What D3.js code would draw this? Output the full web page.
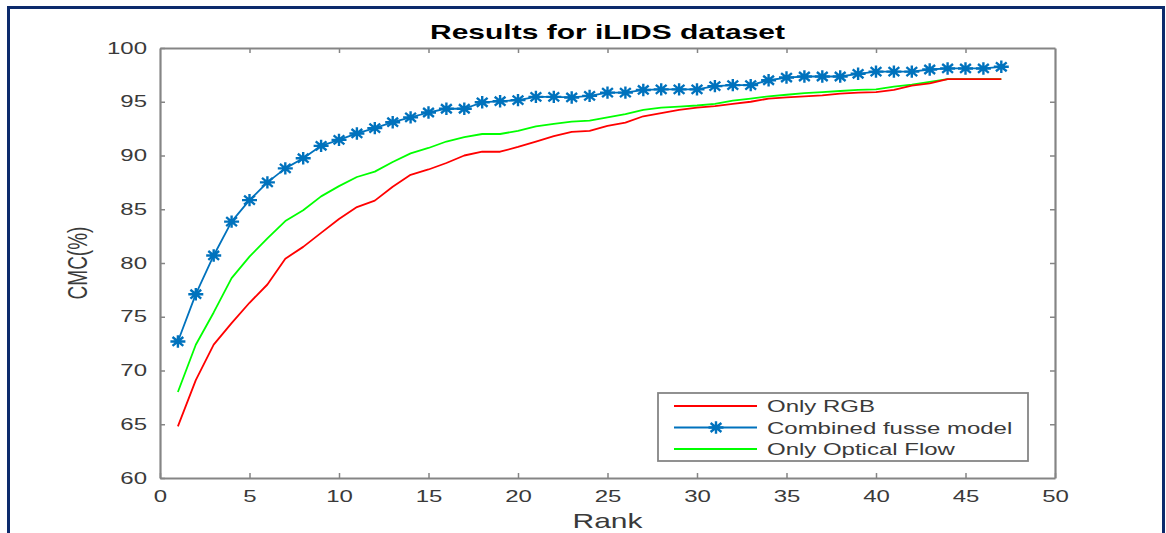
<!DOCTYPE html>
<html>
<head>
<meta charset="utf-8">
<script src="https://cdn.jsdelivr.net/npm/d3@7"></script>
<style>
  body { margin: 0; background: #fff; }
  svg { display: block; font-family: "Liberation Sans", Arial, sans-serif; }
</style>
</head>
<body>
<svg id="chart" width="1166" height="533"></svg>
<script>
// data
var ranks = [1, 2, 3, 4, 5, 6, 7, 8, 9, 10, 11, 12, 13, 14, 15, 16, 17, 18, 19, 20, 21, 22, 23, 24,
             25, 26, 27, 28, 29, 30, 31, 32, 33, 34, 35, 36, 37, 38, 39, 40, 41, 42, 43, 44, 45, 46, 47];
var onlyRGB = [64.8, 69.1, 72.4, 74.4, 76.3, 78.0, 80.4, 81.5, 82.8, 84.1, 85.2, 85.8, 87.1, 88.2, 88.7,
               89.3, 90.0, 90.35, 90.35, 90.8, 91.3, 91.8, 92.2, 92.3, 92.75, 93.05, 93.65, 93.95, 94.25,
               94.45, 94.6, 94.8, 95.0, 95.3, 95.4, 95.5, 95.6, 95.75, 95.85, 95.9, 96.1, 96.5, 96.7,
               97.1, 97.1, 97.1, 97.1];
var combined = [72.7, 77.1, 80.7, 83.85, 85.85, 87.5, 88.8, 89.75, 90.9, 91.45, 92.05, 92.55, 93.1, 93.55,
                94.0, 94.35, 94.35, 94.95, 95.05, 95.15, 95.45, 95.45, 95.4, 95.55, 95.85, 95.85, 96.1,
                96.15, 96.15, 96.15, 96.45, 96.55, 96.55, 97.0, 97.25, 97.35, 97.35, 97.35, 97.6, 97.8,
                97.8, 97.8, 98.0, 98.1, 98.1, 98.1, 98.25];
var opticalFlow = [68.0, 72.4, 75.4, 78.6, 80.6, 82.3, 83.9, 84.9, 86.2, 87.15, 88.0, 88.5, 89.4, 90.2,
                   90.7, 91.3, 91.7, 92.0, 92.0, 92.3, 92.7, 92.95, 93.15, 93.25, 93.55, 93.85, 94.25,
                   94.45, 94.55, 94.65, 94.8, 95.1, 95.3, 95.5, 95.65, 95.8, 95.9, 96.0, 96.1, 96.15,
                   96.4, 96.6, 96.85, 97.1, 97.1, 97.1, 97.1];
var xTicks = [0, 5, 10, 15, 20, 25, 30, 35, 40, 45, 50];
var yTicks = [60, 65, 70, 75, 80, 85, 90, 95, 100];
var seriesNames = ["Only RGB", "Combined fusse model", "Only Optical Flow"];
var seriesColors = ["#ff0000", "#0072bd", "#00ff00"];

var svg = d3.select("#chart"),
    plotLeft = 160, plotRight = 1055, plotTop = 48, plotBottom = 478,
    sx = 1.5,   // the picture is stretched sideways
    axisGrey = "#858585",
    textGrey = "#3a3a3a";

var x = d3.scaleLinear().domain([0, 50]).range([plotLeft, plotRight]);
var y = d3.scaleLinear().domain([60, 100]).range([plotBottom, plotTop]);

// outer navy frame
svg.append("rect")
  .attr("x", 8.5).attr("y", 7.5)
  .attr("width", 1155).attr("height", 560)
  .attr("fill", "none")
  .attr("stroke", "#0c2a6c")
  .attr("stroke-width", 3);

function stretch(sel) {
  sel.each(function() {
    var t = d3.select(this);
    var tx = +t.attr("x") || 0, ty = +t.attr("y") || 0;
    t.attr("x", null).attr("y", null)
      .attr("transform", "translate(" + tx + "," + ty + ") scale(" + sx + ",1)");
  });
}

// axes (box with inward ticks)
var gx = svg.append("g").attr("transform", "translate(0," + plotBottom + ")")
  .call(d3.axisBottom(x).tickValues(xTicks).tickSizeInner(-5).tickSizeOuter(0).tickPadding(13));
var gy = svg.append("g").attr("transform", "translate(" + plotLeft + ",0)")
  .call(d3.axisLeft(y).tickValues(yTicks).tickSizeInner(-5).tickSizeOuter(0).tickPadding(13));
var gxt = svg.append("g").attr("transform", "translate(0," + plotTop + ")")
  .call(d3.axisTop(x).tickValues(xTicks).tickSizeInner(-5).tickSizeOuter(0).tickFormat(""));
var gyr = svg.append("g").attr("transform", "translate(" + plotRight + ",0)")
  .call(d3.axisRight(y).tickValues(yTicks).tickSizeInner(-5).tickSizeOuter(0).tickFormat(""));

[gx, gy, gxt, gyr].forEach(function(g) {
  g.select(".domain").attr("stroke", axisGrey).attr("stroke-width", 2.2);
  g.selectAll(".tick line").attr("stroke", axisGrey).attr("stroke-width", 1.5);
  g.selectAll(".tick text").attr("fill", textGrey).style("font-size", "16px")
    .style("font-family", "'Liberation Sans', Arial, sans-serif");
});
gx.selectAll(".tick text").call(stretch);
gy.selectAll(".tick text").call(stretch);
// hide tick marks that sit on the box corners
gxt.selectAll(".tick").filter(function(d) { return d === 0 || d === 50; }).remove();
gyr.selectAll(".tick").filter(function(d) { return d === 60 || d === 100; }).remove();

// series
var line = d3.line()
  .x(function(d) { return x(d[0]); })
  .y(function(d) { return y(d[1]); });

var allSeries = [onlyRGB, combined, opticalFlow];
var order = [2, 0, 1];   // draw green, red, then blue on top
order.forEach(function(i) {
  svg.append("path")
    .datum(ranks.map(function(r, j) { return [r, allSeries[i][j]]; }))
    .attr("d", line)
    .attr("fill", "none")
    .attr("stroke", seriesColors[i])
    .attr("stroke-width", 1.8)
    .attr("stroke-linejoin", "round");
});

// asterisk marker
function star(cx, cy) {
  var a = 7.5, b = 6.2, d = 0.72;
  return "M" + (cx - a) + "," + cy + "L" + (cx + a) + "," + cy +
         "M" + cx + "," + (cy - b) + "L" + cx + "," + (cy + b) +
         "M" + (cx - a * d) + "," + (cy - b * d) + "L" + (cx + a * d) + "," + (cy + b * d) +
         "M" + (cx - a * d) + "," + (cy + b * d) + "L" + (cx + a * d) + "," + (cy - b * d);
}

svg.append("g").selectAll("path")
  .data(ranks.map(function(r, j) { return [r, combined[j]]; }))
  .enter().append("path")
  .attr("d", function(d) { return star(x(d[0]), y(d[1])); })
  .attr("stroke", seriesColors[1])
  .attr("stroke-width", 2.4)
  .attr("fill", "none");

// title and axis labels
svg.append("text")
  .attr("x", (plotLeft + plotRight) / 2).attr("y", 39)
  .attr("text-anchor", "middle")
  .style("font-size", "20px").style("font-weight", "bold")
  .attr("fill", "#000")
  .text("Results for iLIDS dataset")
  .call(stretch);

svg.append("text")
  .attr("x", (plotLeft + plotRight) / 2).attr("y", 528)
  .attr("text-anchor", "middle")
  .style("font-size", "20px")
  .attr("fill", textGrey)
  .text("Rank")
  .call(stretch);

svg.append("text")
  .attr("text-anchor", "middle")
  .attr("transform", "translate(87," + ((plotTop + plotBottom) / 2) + ") scale(" + sx + ",1) rotate(-90)")
  .style("font-size", "19px")
  .attr("fill", textGrey)
  .text("CMC(%)");

// legend
var legend = svg.append("g");
legend.append("rect")
  .attr("x", 658).attr("y", 393)
  .attr("width", 370).attr("height", 68)
  .attr("fill", "#fff")
  .attr("stroke", axisGrey)
  .attr("stroke-width", 1.8);

var legendY = d3.scalePoint().domain(seriesNames).range([406, 449]);

var item = legend.selectAll(".legend-item")
  .data(seriesNames)
  .enter().append("g")
  .attr("class", "legend-item");

item.append("line")
  .attr("x1", 674).attr("x2", 757)
  .attr("y1", function(d) { return legendY(d); })
  .attr("y2", function(d) { return legendY(d); })
  .attr("stroke", function(d, i) { return seriesColors[i]; })
  .attr("stroke-width", 1.8);

item.filter(function(d, i) { return i === 1; })
  .append("path")
  .attr("d", function(d) { return star(716, legendY(d)); })
  .attr("stroke", seriesColors[1])
  .attr("stroke-width", 2.4);

item.append("text")
  .attr("x", 767)
  .attr("y", function(d) { return legendY(d) + 6; })
  .style("font-size", "16px")
  .attr("fill", textGrey)
  .text(function(d) { return d; })
  .call(stretch);
</script>
</body>
</html>
